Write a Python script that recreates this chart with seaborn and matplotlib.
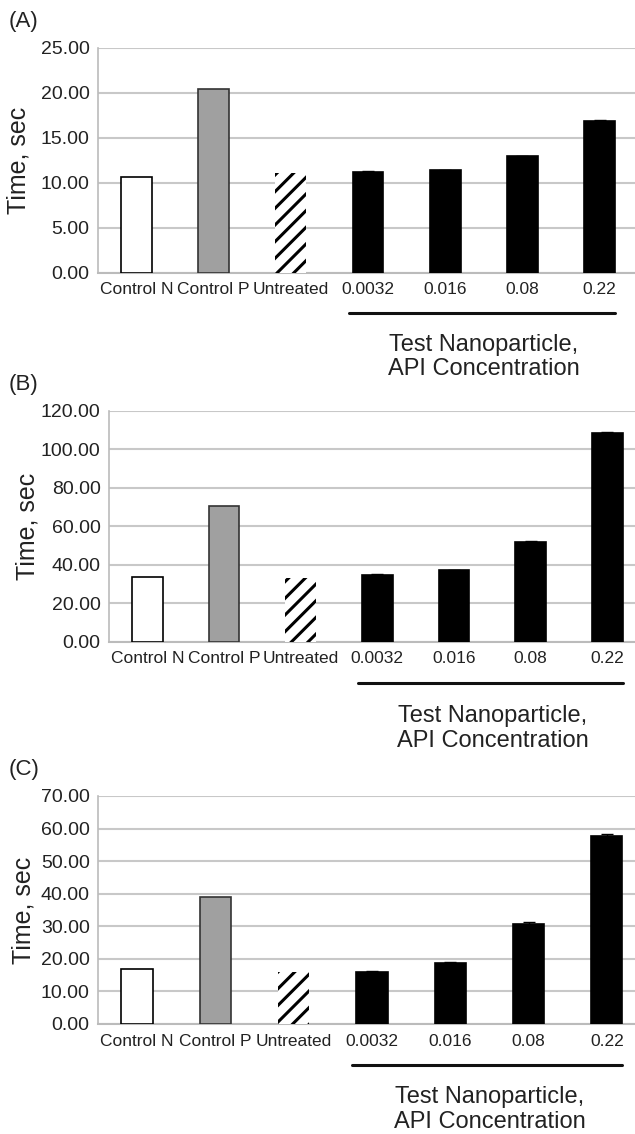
import matplotlib
matplotlib.use('Agg')
import matplotlib.pyplot as plt
import matplotlib.transforms as mtransforms
import seaborn as sns

# Data
CATEGORIES = ['Control N', 'Control P', 'Untreated', '0.0032', '0.016', '0.08', '0.22']
TEST_CATS = ['0.0032', '0.016', '0.08', '0.22']

TIME_A = [10.67, 20.44, 11.10, 11.19, 11.37, 12.93, 16.85]
TIME_B = [33.6, 70.6, 32.9, 34.7, 37.0, 51.8, 108.3]
TIME_C = [16.8, 39.1, 16.1, 15.9, 18.8, 30.7, 57.7]

ERR_A = [0.08, 0.08, 0.08, 0.15]
ERR_B = [0.4, 0.5, 0.3, 0.4]
ERR_C = [0.3, 0.3, 0.5, 0.5]

YMAX = [25, 120, 70]
YSTEP = [5, 20, 10]
PANEL_LABELS = ['(A)', '(B)', '(C)']

BAR_COLORS = ['white', '#a0a0a0', 'white', 'black', 'black', 'black', 'black']
EDGE_COLORS = ['black', '#333333', 'black', 'black', 'black', 'black', 'black']

W, H = 635, 1134
# axes boxes in pixels: left, right, y of top tick, y of zero
BOXES = [(98, 635, 47.7, 272.7), (109, 635, 410.7, 641.7), (98, 635, 796, 1024)]
XRIGHT = [6.46, 6.36, 6.36]
YLABEL_X = [31, 39, 36]  # right edge of the rotated y label, px


def draw_panel(fig, i, values, errs):
    left, right, ytop, yzero = BOXES[i]
    ymax, ystep = YMAX[i], YSTEP[i]
    ax = fig.add_axes([left / W, (H - yzero) / H, (right - left) / W, (yzero - ytop) / H])
    sns.barplot(x=CATEGORIES, y=values, hue=CATEGORIES, palette=BAR_COLORS,
                legend=False, width=0.4, ax=ax, zorder=3)
    for patch, ec in zip(ax.patches, EDGE_COLORS):
        patch.set_edgecolor(ec)
        patch.set_linewidth(1.2)
    hatched = ax.patches[2]
    hatched.set_hatch('//')
    hatched.set_linewidth(0)

    test_vals = values[3:]
    ax.errorbar(TEST_CATS, test_vals, yerr=errs, fmt='none', ecolor='black',
                elinewidth=1, capsize=4, capthick=1, zorder=4)

    ax.set_xlim(-0.5, XRIGHT[i])
    ax.set_ylim(0, ymax)
    ticks = list(range(0, ymax + 1, ystep))
    ax.set_yticks(ticks)
    ax.set_yticklabels([f'{t:.2f}' for t in ticks], fontsize=14, color='#222222')
    ax.tick_params(axis='y', length=4, width=1, color='#bbbbbb', pad=2)
    ax.tick_params(axis='x', length=0, pad=7, labelsize=12.5, labelcolor='#222222')
    ax.grid(axis='y', color='#c8c8c8', linewidth=1.5, zorder=0)
    ax.grid(axis='x', visible=False)
    ax.set_axisbelow(True)
    for side in ['top', 'right']:
        ax.spines[side].set_visible(False)
    ax.spines['left'].set_color('#bbbbbb')
    ax.spines['bottom'].set_color('#bbbbbb')
    ax.spines['left'].set_linewidth(1.2)
    ax.spines['bottom'].set_linewidth(1.5)

    ax.set_xlabel('')
    ax.set_ylabel('Time, sec', fontsize=18, color='#222222')
    ax.yaxis.set_label_coords((YLABEL_X[i] - left) / (right - left), 0.5)

    trans = mtransforms.blended_transform_factory(ax.transData, ax.transAxes)
    ax.plot([2.75, 6.2], [-0.18, -0.18], color='#111111', linewidth=2.2,
            transform=trans, clip_on=False)
    ax.text(4.5, -0.375, 'Test Nanoparticle,\nAPI Concentration', transform=trans,
            ha='center', va='center', fontsize=17, linespacing=1.15, color='#222222')

    fig.text(9 / W, 1 - (ytop - 26) / H, PANEL_LABELS[i], ha='left', va='center',
             fontsize=16, color='#222222')
    return ax


def main():
    sns.set_style('white')
    plt.rcParams['font.family'] = ['Liberation Sans', 'DejaVu Sans']
    plt.rcParams['hatch.linewidth'] = 2.2

    fig = plt.figure(figsize=(W / 100, H / 100), dpi=100)
    data = [(TIME_A, ERR_A), (TIME_B, ERR_B), (TIME_C, ERR_C)]
    for i, (values, errs) in enumerate(data):
        draw_panel(fig, i, values, errs)

    fig.savefig('out.png', dpi=100)


if __name__ == '__main__':
    main()
